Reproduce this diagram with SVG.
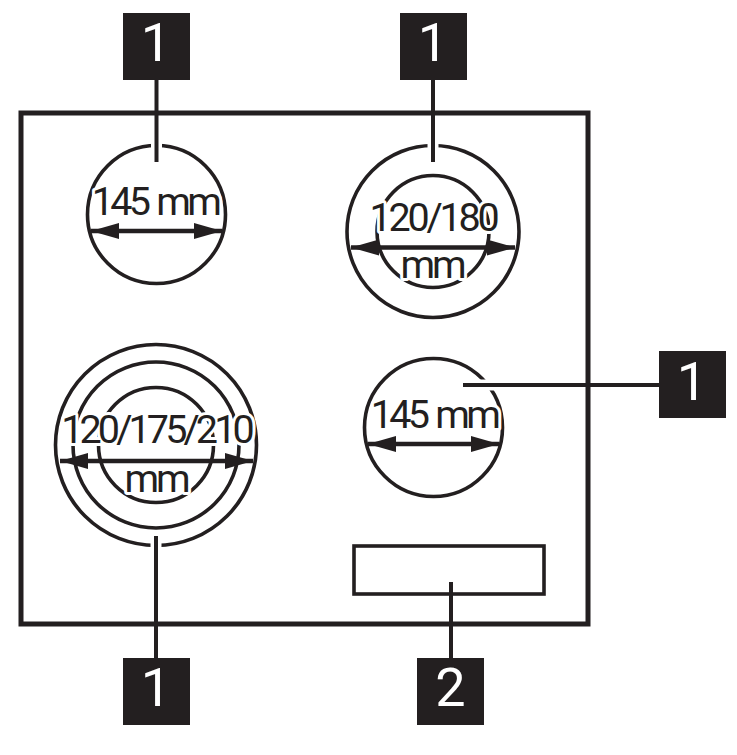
<svg xmlns="http://www.w3.org/2000/svg" width="737" height="755" viewBox="0 0 737 755">
<style>
.s{fill:none;stroke:#231f20;stroke-width:3.6}
.l{fill:none;stroke:#231f20;stroke-width:4}
.g{fill:none;stroke:#fff;stroke-width:11}
.t{font-family:Roboto,"Liberation Sans",Arial,sans-serif;font-size:39.500px;fill:#231f20;text-anchor:middle;letter-spacing:-3.200px;stroke:#fff;stroke-width:6px;paint-order:stroke;stroke-linejoin:round}
.w{letter-spacing:-3.900px}
.m{letter-spacing:-3.700px;word-spacing:3px}
.b{fill:#231f20}
.n{font-family:Roboto,"Liberation Sans",Arial,sans-serif;font-size:54px;fill:#fff;text-anchor:middle}
.a{fill:none;stroke:#231f20;stroke-width:4.500}
</style>
<defs>
<marker id="ah" markerUnits="userSpaceOnUse" markerWidth="28" markerHeight="16" refX="28" refY="8" orient="auto-start-reverse"><path d="M0 0L28 8L0 16Z" fill="#231f20"/></marker>
</defs>
<g id="plate"><rect class="s" x="21" y="113" width="567" height="511" style="stroke-width:5"/></g>
<g id="zone-top-left">
<circle class="s" cx="156.500" cy="214.500" r="69"/>
<text class="t m" x="155" y="215">145 mm</text>
<line class="a" x1="91" y1="231" x2="222" y2="231" marker-start="url(#ah)" marker-end="url(#ah)"/>
</g>
<g id="zone-top-right">
<circle class="s" cx="433" cy="231.500" r="86"/>
<circle class="s" cx="433" cy="231.500" r="56"/>
<text class="t" x="433" y="230.500">120/180</text>
<text class="t" x="432" y="278">mm</text>
<line class="a" x1="351" y1="247.500" x2="515" y2="247.500" marker-start="url(#ah)" marker-end="url(#ah)"/>
</g>
<g id="zone-bottom-left">
<circle class="s" cx="156" cy="445" r="100.500"/>
<circle class="s" cx="156" cy="445" r="83"/>
<circle class="s" cx="156" cy="445" r="57.500"/>
<text class="t w" x="156" y="443">120/175/210</text>
<text class="t" x="156" y="492">mm</text>
<line class="a" x1="60" y1="461" x2="253" y2="461" marker-start="url(#ah)" marker-end="url(#ah)"/>
</g>
<g id="zone-middle-right">
<circle class="s" cx="433.500" cy="427.500" r="69"/>
<text class="t m" x="434" y="428">145 mm</text>
<line class="a" x1="368" y1="444" x2="499" y2="444" marker-start="url(#ah)" marker-end="url(#ah)"/>
</g>
<g id="display"><rect class="s" x="354" y="546" width="190" height="48"/></g>
<g id="connectors">
<line class="g" x1="156.500" y1="140" x2="156.500" y2="152"/>
<line class="g" x1="433" y1="140" x2="433" y2="152"/>
<line class="g" x1="156" y1="540" x2="156" y2="550"/>
<line class="g" x1="480" y1="385" x2="495" y2="385"/>
<line class="l" x1="156.500" y1="79" x2="156.500" y2="162"/>
<line class="l" x1="433" y1="79" x2="433" y2="162"/>
<line class="l" x1="156" y1="536" x2="156" y2="659"/>
<line class="l" x1="463" y1="385" x2="659" y2="385"/>
<line class="l" x1="451" y1="582" x2="451" y2="659"/>
</g>
<g id="label-1a"><rect class="b" x="123" y="13" width="67" height="67"/><text class="n" x="156" y="61">1</text></g>
<g id="label-1b"><rect class="b" x="400" y="13" width="67" height="67"/><text class="n" x="433" y="61">1</text></g>
<g id="label-1c"><rect class="b" x="659" y="351" width="67" height="67"/><text class="n" x="692" y="400">1</text></g>
<g id="label-1d"><rect class="b" x="123" y="658" width="67" height="67"/><text class="n" x="156" y="706">1</text></g>
<g id="label-2"><rect class="b" x="417" y="658" width="67" height="67"/><text class="n" x="450.500" y="706">2</text></g>
</svg>
